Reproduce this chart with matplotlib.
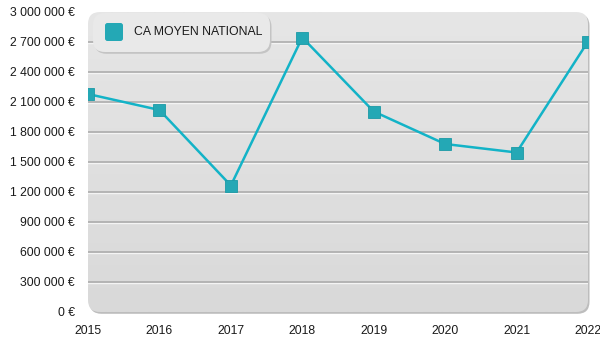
"""Average national revenue per year, drawn as a line chart with a soft panel."""

import matplotlib

matplotlib.use("Agg")
import matplotlib.pyplot as plt
import numpy as np
from matplotlib.patches import FancyBboxPatch

years = [2015, 2016, 2017, 2018, 2019, 2020, 2021, 2022]
ca_moyen = [2180000, 2020000, 1265000, 2745000, 2005000, 1680000, 1595000, 2705000]
y_ticks = [0, 300000, 600000, 900000, 1200000, 1500000, 1800000,
           2100000, 2400000, 2700000, 3000000]
series_label = "CA MOYEN NATIONAL"

LINE_COLOR = "#13b3c7"
MARKER_COLOR = "#24a8b5"
TEXT_COLOR = "#1a1a1a"

plt.rcParams["font.family"] = ["Liberation Sans", "DejaVu Sans"]

W, H = 600, 350
fig = plt.figure(figsize=(W / 100, H / 100), dpi=100)
fig.patch.set_facecolor("white")

# plot area in pixels: left, top, right, bottom
left, top, right, bottom = 88, 12, 588, 312
rect = [left / W, 1 - bottom / H, (right - left) / W, (bottom - top) / H]
aspect = (bottom - top) / (right - left)

# background panel: rounded, vertical grey gradient, faint drop shadow
bg = fig.add_axes(rect, zorder=0)
bg.axis("off")
shadow = FancyBboxPatch((0.003, -0.006), 1.0, 1.0, boxstyle="round,pad=0,rounding_size=0.024",
                        mutation_aspect=1 / aspect, facecolor="#bdbdbd", edgecolor="none",
                        clip_on=False, zorder=1)
bg.add_patch(shadow)
panel = FancyBboxPatch((0, 0), 1.0, 1.0, boxstyle="round,pad=0,rounding_size=0.024",
                       mutation_aspect=1 / aspect, facecolor="none", edgecolor="none",
                       clip_on=False, zorder=1)
bg.add_patch(panel)
grad = np.linspace(0, 1, 256).reshape(-1, 1)
img = bg.imshow(grad, extent=(0, 1, 0, 1), aspect="auto", origin="lower", zorder=2,
                cmap=matplotlib.colors.LinearSegmentedColormap.from_list(
                    "panel", ["#d9d9d9", "#e6e6e6"]))
img.set_clip_path(panel)
bg.set_xlim(0, 1)
bg.set_ylim(0, 1)

ax = fig.add_axes(rect, zorder=1)
ax.patch.set_alpha(0)
for s in ax.spines.values():
    s.set_visible(False)

# embossed gridlines: grey line with a white line just below
for v in y_ticks[1:-1]:
    ax.axhline(v, color="#a9a9a9", lw=1.1, zorder=1)
    ax.axhline(v - 9000, color="#f4f4f4", lw=1.0, zorder=0.9)

ax.plot(years, ca_moyen, color=LINE_COLOR, lw=1.8, zorder=3)
ax.plot(years, ca_moyen, ls="none", marker="s", ms=8.4, mfc=MARKER_COLOR,
        mec="#1b9aa6", mew=0.6, zorder=4)

ax.set_xlim(years[0], years[-1])
ax.set_ylim(y_ticks[0], y_ticks[-1])
ax.set_xticks(years)
ax.set_xticklabels([str(y) for y in years])
ax.set_yticks(y_ticks)
ax.set_yticklabels([f"{v:,}".replace(",", " ") + " €" for v in y_ticks])
ax.tick_params(axis="both", length=0, labelsize=8.8, colors=TEXT_COLOR)
ax.tick_params(axis="y", pad=9.5)
ax.tick_params(axis="x", pad=9)

# legend box in the top-left corner of the panel
def px_to_axes(x, y):
    return (x - left) / (right - left), 1 - (y - top) / (bottom - top)

lx0, ly0, lx1, ly1 = 93, 13, 270, 52
bx, by = px_to_axes(lx0, ly1)
bw, bh = (lx1 - lx0) / (right - left), (ly1 - ly0) / (bottom - top)
ax.add_patch(FancyBboxPatch((bx + 0.003, by - 0.006), bw, bh,
                            boxstyle="round,pad=0,rounding_size=0.024",
                            mutation_aspect=1 / aspect, transform=ax.transAxes,
                            facecolor="#c4c4c4", edgecolor="none", zorder=5))
ax.add_patch(FancyBboxPatch((bx, by), bw, bh,
                            boxstyle="round,pad=0,rounding_size=0.024",
                            mutation_aspect=1 / aspect, transform=ax.transAxes,
                            facecolor="#e9e9e9", edgecolor="none", zorder=6))
kx, ky = px_to_axes(105, 41)
ax.add_patch(FancyBboxPatch((kx, ky), 18 / (right - left), 18 / (bottom - top),
                            boxstyle="round,pad=0,rounding_size=0.005",
                            mutation_aspect=1 / aspect, transform=ax.transAxes,
                            facecolor=MARKER_COLOR, edgecolor="none", zorder=7))
tx, ty = px_to_axes(134, 32)
ax.text(tx, ty, series_label, transform=ax.transAxes, fontsize=8.8, color=TEXT_COLOR,
        va="center", ha="left", zorder=7)

fig.savefig("out.png", dpi=100)
